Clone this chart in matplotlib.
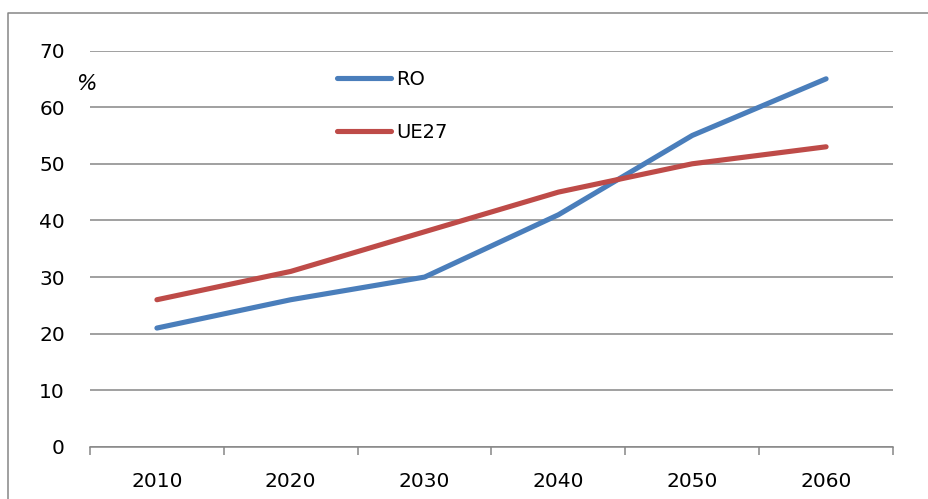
import matplotlib
matplotlib.use("Agg")
import matplotlib.pyplot as plt
from matplotlib.lines import Line2D

# Share of population (%) by year, Romania vs EU27
years = ["2010", "2020", "2030", "2040", "2050", "2060"]
ro = [21, 26, 30, 41, 55, 65]
ue27 = [26, 31, 38, 45, 50, 53]

BLUE = "#4A7EBB"
RED = "#BE4B48"
GRID = "#868686"

fig = plt.figure(figsize=(9.29, 4.99), dpi=100)
ax = fig.add_axes([90 / 929, 1 - 447 / 499, (893 - 90) / 929, (447 - 50.5) / 499])

x = list(range(len(years)))
ax.plot(x, ro, color=BLUE, lw=3.7, solid_capstyle="round", solid_joinstyle="round",
        label="RO", zorder=3)
ax.plot(x, ue27, color=RED, lw=3.7, solid_capstyle="round", solid_joinstyle="round",
        label="UE27", zorder=3)

ax.set_xlim(-0.5, len(years) - 0.5)
ax.set_ylim(0, 70)
ax.set_yticks(range(0, 71, 10))
ax.yaxis.grid(True, color=GRID, lw=1.1)
ax.set_axisbelow(True)

# category boundaries carry the tick marks, centres carry the labels
ax.set_xticks([i - 0.5 for i in range(len(years) + 1)])
ax.set_xticklabels([])
ax.set_xticks(x, minor=True)
ax.set_xticklabels(years, minor=True)
ax.tick_params(axis="x", which="major", length=6, width=1.1, color=GRID)
ax.tick_params(axis="x", which="minor", length=0, pad=18, labelsize=14.5)
ax.tick_params(axis="y", length=0, pad=18, labelsize=14.5)

for side in ("left", "right", "top"):
    ax.spines[side].set_visible(False)
ax.spines["bottom"].set_color(GRID)
ax.spines["bottom"].set_linewidth(1.1)

ax.text(86 / 929, 1 - 84 / 499, "%", transform=fig.transFigure, fontsize=15.5,
        style="italic", ha="center", va="center")

leg = ax.legend(loc="upper left", bbox_to_anchor=(337 / 929, 1 - 70 / 499),
                bbox_transform=fig.transFigure, frameon=False, fontsize=14,
                handlelength=2.8, handletextpad=0.25, labelspacing=1.75,
                borderpad=0, borderaxespad=0)

# chart frame: only the left and top edges fall inside the canvas
fx, fy = 8 / 929, 1 - 13 / 499
fig.add_artist(Line2D([fx, fx, 1.1], [-0.1, fy, fy], transform=fig.transFigure,
                      color=GRID, lw=1.1, clip_on=False))

fig.savefig("out.png", dpi=100)
